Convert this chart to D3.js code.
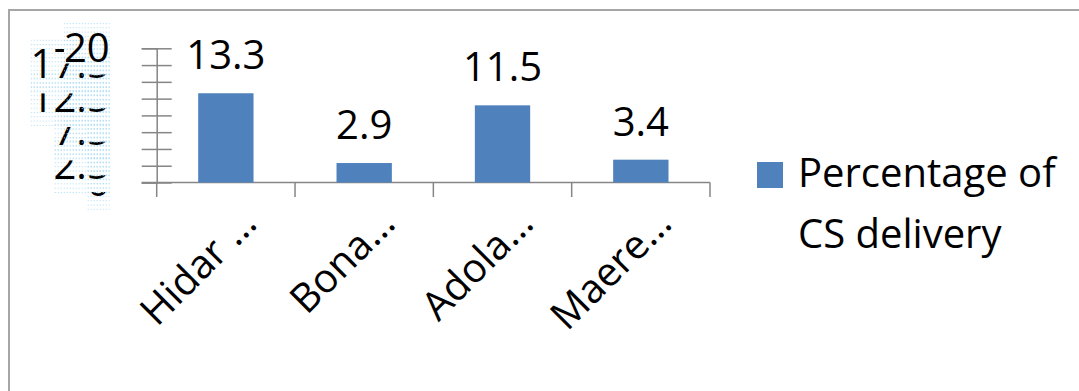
<!DOCTYPE html>
<html>
<head>
<meta charset="utf-8">
<script src="https://cdn.jsdelivr.net/npm/d3@7"></script>
<style>
  html, body { margin: 0; padding: 0; background: #fff; }
  text { font-family: "Open Sans", sans-serif; }
</style>
</head>
<body>
<div id="chart"></div>
<script>
const categories = ['Hidar \u2026', 'Bona\u2026', 'Adola\u2026', 'Maere\u2026'];
const values = [13.3, 2.9, 11.5, 3.4];
const yTicks = [0, 2.5, 5, 7.5, 10, 12.5, 15, 17.5, 20];
const legendLines = ['Percentage of', 'CS delivery'];

const svgWidth = 1079;
const svgHeight = 391;
const fontSize = 40;
const barColor = '#4f81bd';
const axisColor = '#868686';

const svg = d3.select('#chart').append('svg')
    .attr('width', svgWidth)
    .attr('height', svgHeight);

// outer chart frame (right and bottom edges fall outside the picture)
svg.append('rect')
    .attr('x', 9).attr('y', 10)
    .attr('width', svgWidth + 20).attr('height', svgHeight + 20)
    .attr('fill', '#fff')
    .attr('stroke', '#a6a6a6')
    .attr('stroke-width', 2);

const defs = svg.append('defs');
const dots = defs.append('pattern')
    .attr('id', 'dots')
    .attr('patternUnits', 'userSpaceOnUse')
    .attr('width', 3).attr('height', 4.3);
dots.append('rect').attr('width', 1).attr('height', 1).attr('fill', '#a9dbf3');

const x = d3.scaleBand().domain(categories).range([156.7, 710]).padding(0);
const y = d3.scaleLinear().domain([0, 20]).range([182.5, 48.3]);
const barW = x.bandwidth() * 0.4;

// y axis
const tickLen = 15;
const yAxis = svg.append('g')
    .attr('transform', `translate(${x.range()[0]},0)`)
    .call(d3.axisLeft(y).tickValues(yTicks).tickSize(tickLen).tickPadding(32)
        .tickFormat(d => String(d)));
yAxis.select('.domain').attr('stroke', axisColor).attr('stroke-width', 1.5);
yAxis.selectAll('.tick line').attr('x1', tickLen).attr('stroke', axisColor).attr('stroke-width', 1.5);
yAxis.selectAll('.tick text')
    .attr('font-size', fontSize)
    .attr('fill', '#000');

// overlapping labels: emulate the clipped look of the original
const digitW = 0.572 * fontSize;
const labelRight = -tickLen - 32;
const topHalf = d3.max(yTicks.filter(v => v % 5 !== 0 && v < 20));
yAxis.selectAll('.tick').each(function (v, i) {
    const g = d3.select(this);
    const t = g.select('text');
    const bb = t.node().getBBox();
    g.insert('rect', 'text')
        .attr('x', bb.x).attr('y', -27)
        .attr('width', labelRight - bb.x).attr('height', 54)
        .attr('fill', 'url(#dots)');
    if (v === 20) return;
    if (v % 5 === 0 && v !== 0) { t.attr('opacity', 0); return; }
    const cp = defs.append('clipPath').attr('id', 'yclip' + i);
    const leftTop = v === topHalf ? -100 : -6;
    const midTop = v === topHalf ? -2 : -6;
    cp.append('rect').attr('x', -400).attr('y', leftTop)
        .attr('width', 400 + labelRight - 2 * digitW).attr('height', 200);
    cp.append('rect').attr('x', labelRight - 2 * digitW).attr('y', midTop)
        .attr('width', digitW).attr('height', 200);
    cp.append('rect').attr('x', labelRight - digitW).attr('y', 9)
        .attr('width', digitW + 2).attr('height', 200);
    t.attr('clip-path', `url(#yclip${i})`);
});

// x axis
const xAxis = svg.append('g')
    .attr('transform', `translate(0,${y(0)})`)
    .call(d3.axisBottom(x).tickValues([]).tickSizeOuter(0));
xAxis.select('.domain').remove();
xAxis.append('line')
    .attr('x1', x.range()[0] - tickLen).attr('x2', x.range()[1])
    .attr('stroke', axisColor).attr('stroke-width', 1.5);
const bounds = categories.map(c => x(c)).concat([x.range()[1]]);
xAxis.selectAll('.cat-tick')
    .data(bounds)
    .enter().append('line')
    .attr('class', 'cat-tick')
    .attr('x1', d => d).attr('x2', d => d)
    .attr('y1', 0).attr('y2', 14.5)
    .attr('stroke', axisColor).attr('stroke-width', 1.5);

xAxis.selectAll('.cat-label')
    .data(categories)
    .enter().append('text')
    .attr('class', 'cat-label')
    .attr('text-anchor', 'end')
    .attr('font-size', fontSize)
    .attr('fill', '#000')
    .attr('transform', d => `translate(${x(d) + x.bandwidth() / 2 + 33},${43}) rotate(-45)`)
    .text(d => d);

// bars
svg.selectAll('.bar')
    .data(values)
    .enter().append('rect')
    .attr('class', 'bar')
    .attr('x', (d, i) => x(categories[i]) + (x.bandwidth() - barW) / 2)
    .attr('y', d => y(d))
    .attr('width', barW)
    .attr('height', d => y(0) - y(d))
    .attr('fill', barColor);

svg.selectAll('.value')
    .data(values)
    .enter().append('text')
    .attr('class', 'value')
    .attr('text-anchor', 'middle')
    .attr('font-size', fontSize)
    .attr('fill', '#000')
    .attr('x', (d, i) => x(categories[i]) + x.bandwidth() / 2)
    .attr('y', d => y(d) - 24)
    .text(d => d.toFixed(1));

// legend
const legend = svg.append('g').attr('transform', 'translate(757,162)');
legend.append('rect')
    .attr('width', 26).attr('height', 26)
    .attr('fill', barColor);
legend.selectAll('text')
    .data(legendLines)
    .enter().append('text')
    .attr('x', 41)
    .attr('y', (d, i) => 25 + i * 61)
    .attr('font-size', fontSize)
    .attr('fill', '#000')
    .text(d => d);
</script>
</body>
</html>
